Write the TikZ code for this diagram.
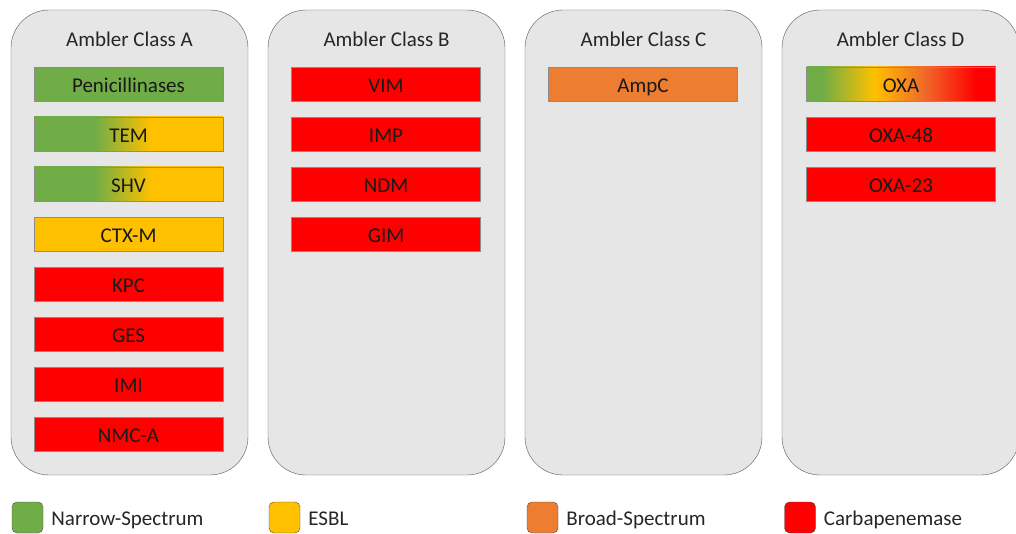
\documentclass[tikz,border=0pt]{standalone}
\usepackage{fontspec}
\setmainfont{Carlito}
\usetikzlibrary{positioning}

\definecolor{narrow}{HTML}{70AD47}
\definecolor{esbl}{HTML}{FFC000}
\definecolor{broad}{HTML}{ED7D31}
\definecolor{carba}{HTML}{FF0000}
\definecolor{panelgray}{HTML}{E6E6E6}

% shadings are 100bp wide, the node fits 25bp..75bp
\pgfdeclarehorizontalshading{narrowesbl}{100bp}{color(0bp)=(narrow); color(41bp)=(narrow); color(56bp)=(esbl); color(100bp)=(esbl)}
\pgfdeclarehorizontalshading{oxashade}{100bp}{color(0bp)=(narrow); color(29bp)=(narrow); color(43bp)=(esbl); color(56bp)=(broad!85!carba); color(70bp)=(carba); color(100bp)=(carba)}

\tikzset{
  panel/.style={draw=black!65, fill=panelgray, rounded corners=38pt, minimum width=237pt, minimum height=465pt, inner sep=0pt},
  title/.style={text=black!85},
  enzyme/.style={draw=black!45, minimum width=189pt, minimum height=34pt, inner sep=0pt, text height=17pt, text depth=0pt, text=black!90},
  key/.style={draw=black!70, rounded corners=5pt, minimum width=31pt, minimum height=31pt, inner sep=0pt},
  keytext/.style={inner sep=0pt, text height=16.5pt, text depth=0pt, text=black!85}
}

\begin{document}
\begin{tikzpicture}[x=1pt, y=-1pt, font=\fontsize{21}{25}\selectfont]
  \useasboundingbox (0,0) rectangle (1016,534); % keep the page size

  % the four classes
  \node[panel] (classA) at (129.5,242.5) {};
  \node[panel] (classB) at (386.5,242.5) {};
  \node[panel] (classC) at (643.5,242.5) {};
  \node[panel] (classD) at (900.5,242.5) {};
  \node[title] (titleA) at (129.5,39) {Ambler Class A};
  \node[title] (titleB) at (386.5,39) {Ambler Class B};
  \node[title] (titleC) at (643.5,39) {Ambler Class C};
  \node[title] (titleD) at (900.5,39) {Ambler Class D};

  % class A
  \node[enzyme, fill=narrow] (pen) at (128.5,84) {Penicillinases};
  \node[enzyme, shading=narrowesbl] (tem) at (128.5,134) {TEM};
  \node[enzyme, shading=narrowesbl] (shv) at (128.5,184) {SHV};
  \node[enzyme, fill=esbl] (ctxm) at (128.5,234) {CTX-M};
  \node[enzyme, fill=carba] (kpc) at (128.5,284) {KPC};
  \node[enzyme, fill=carba] (ges) at (128.5,334) {GES};
  \node[enzyme, fill=carba] (imi) at (128.5,384) {IMI};
  \node[enzyme, fill=carba] (nmca) at (128.5,434) {NMC-A};

  % class B
  \node[enzyme, fill=carba] (vim) at (386,84) {VIM};
  \node[enzyme, fill=carba] (imp) at (386,134) {IMP};
  \node[enzyme, fill=carba] (ndm) at (386,184) {NDM};
  \node[enzyme, fill=carba] (gim) at (386,234) {GIM};

  % class C
  \node[enzyme, fill=broad] (ampc) at (643,84) {AmpC};

  % class D
  \node[enzyme, shading=oxashade] (oxa) at (901,84) {OXA};
  \node[enzyme, fill=carba] (oxa48) at (901,134) {OXA-48};
  \node[enzyme, fill=carba] (oxa23) at (901,184) {OXA-23};

  % legend
  \node[key, fill=narrow] (keyN) at (27.5,517.5) {};
  \node[keytext, right=8pt of keyN] (labN) {Narrow-Spectrum};
  \node[key, fill=esbl] (keyE) at (284.5,517.5) {};
  \node[keytext, right=8pt of keyE] (labE) {ESBL};
  \node[key, fill=broad] (keyB) at (542.5,517.5) {};
  \node[keytext, right=8pt of keyB] (labB) {Broad-Spectrum};
  \node[key, fill=carba] (keyC) at (800,517.5) {};
  \node[keytext, right=8pt of keyC] (labC) {Carbapenemase};
\end{tikzpicture}
\end{document}
